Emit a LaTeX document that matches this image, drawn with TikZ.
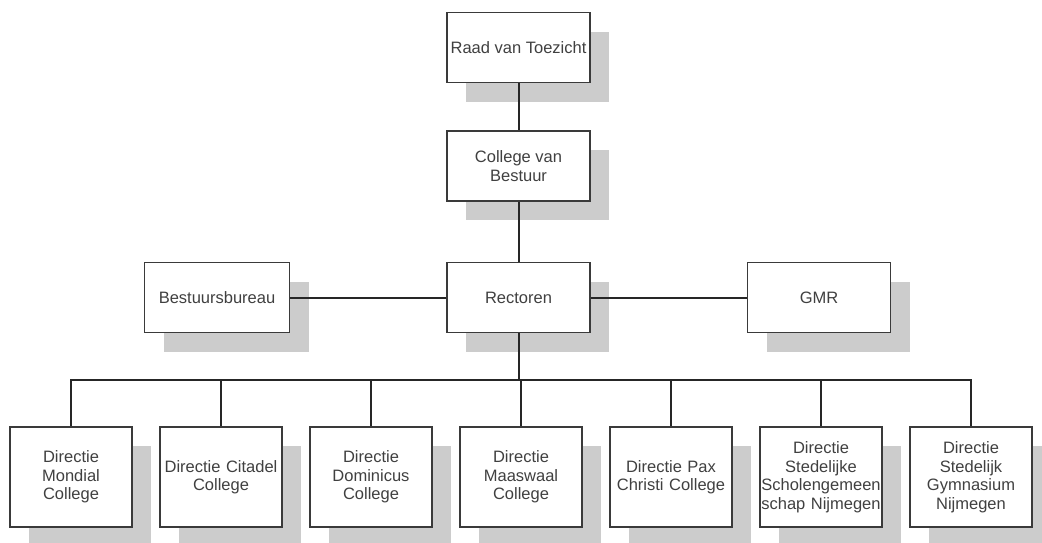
\documentclass[tikz,border=0pt]{standalone}
\usepackage{fontspec}
\setmainfont{Liberation Sans}
\usepackage{tikz}
\usetikzlibrary{positioning,shadows}
\definecolor{orgtext}{HTML}{404040}
\definecolor{orgedge}{HTML}{3A3A3A}
\definecolor{orgshade}{HTML}{CCCCCC}

\begin{document}
\begin{tikzpicture}[
  x=1pt,y=-1pt,
  box/.style={draw=orgedge,line width=1.5pt,fill=white,text=orgtext,
    font=\fontsize{16.5}{18.5}\selectfont,align=center,inner sep=1pt,
    drop shadow={shadow xshift=19pt,shadow yshift=-19pt,fill=orgshade,opacity=1}},
  top/.style={box,minimum width=143pt,minimum height=70pt},
  dir/.style={box,minimum width=121pt,minimum height=100pt,text width=120pt},
  link/.style={draw=black!85,line width=2pt}
]
\clip (0,0) rectangle (1042,542);
\node[top] (rvt) at (518.5,47.5) {Raad van Toezicht};
\node[top,below=47pt of rvt] (cvb) {College van\\Bestuur};
\node[top,below=60pt of cvb] (rect) {Rectoren};
\node[top,left=156pt of rect,minimum width=145pt] (bb) {Bestuursbureau};
\node[top,right=156pt of rect] (gmr) {GMR};
\node[dir] (mon) at (71,477) {Directie\\Mondial\\College};
\node[dir,right=26.5pt of mon] (cit) {Directie Citadel\\College};
\node[dir,right=26.5pt of cit] (dom) {Directie\\Dominicus\\College};
\node[dir,right=26.5pt of dom] (maa) {Directie\\Maaswaal\\College};
\node[dir,right=26.5pt of maa] (pax) {Directie Pax\\Christi College};
\node[dir,right=26.5pt of pax] (ssn) {Directie\\Stedelijke\\Scholengemeen\\schap Nijmegen};
\node[dir,right=26.5pt of ssn] (sgn) {Directie\\Stedelijk\\Gymnasium\\Nijmegen};
\coordinate (bus) at (518.5,380);
\draw[link] (rvt) -- (cvb);
\draw[link] (cvb) -- (rect);
\draw[link] (bb) -- (rect);
\draw[link] (rect) -- (gmr);
\draw[link] (rect) -- (bus);
\foreach \n in {mon,cit,dom,maa,pax,ssn,sgn} \draw[link] (bus) -| (\n.north);
\end{tikzpicture}
\end{document}
